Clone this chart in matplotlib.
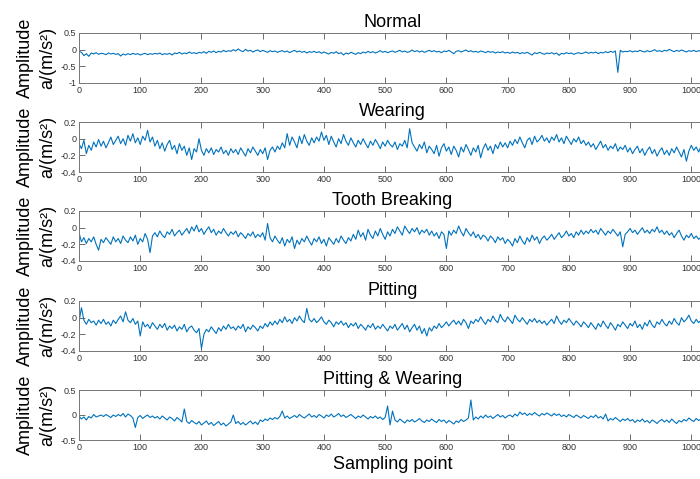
import numpy as np
import matplotlib
matplotlib.use("Agg")
import matplotlib.pyplot as plt

plt.rcParams['font.family'] = ['Liberation Sans', 'DejaVu Sans']

# sample index of every stored value (one value per 4 sampling points)
samples = np.arange(0, 1024, 4)

normal = [
    -0.05, -0.08, -0.18, -0.12, -0.2, -0.1, -0.13, -0.09, -0.14, -0.11, -0.12, -0.15, -0.1, -0.13, -0.11, -0.14,
    -0.12, -0.19, -0.13, -0.16, -0.12, -0.15, -0.11, -0.14, -0.12, -0.16, -0.13, -0.11, -0.15, -0.12, -0.14, -0.11,
    -0.13, -0.1, -0.15, -0.12, -0.14, -0.11, -0.16, -0.1, -0.12, -0.08, -0.13, -0.1, -0.12, -0.07, -0.11, -0.09,
    -0.12, -0.08, -0.1, -0.06, -0.11, -0.05, -0.08, -0.04, -0.09, -0.05, -0.07, -0.02, -0.06, -0.03, -0.05, 0.0,
    -0.04, 0.02, -0.03, -0.06, 0.01, -0.04, -0.02, -0.07, -0.03, -0.01, -0.06, -0.02, -0.05, -0.08, -0.03, -0.06,
    -0.04, -0.08, -0.05, -0.03, -0.07, -0.04, -0.09, -0.05, -0.02, -0.07, -0.04, -0.08, -0.05, -0.1, -0.06, -0.08,
    -0.05, -0.09, -0.06, -0.11, -0.07, -0.1, -0.13, -0.08, -0.11, -0.06, -0.12, -0.09, -0.16, -0.1, -0.13, -0.08,
    -0.11, -0.14, -0.09, -0.12, -0.07, -0.1, -0.05, -0.09, -0.06, -0.1, -0.07, -0.03, -0.08, -0.05, -0.09, -0.06,
    -0.04, -0.08, -0.05, -0.02, -0.07, -0.04, -0.08, -0.06, -0.01, -0.06, -0.03, -0.07, -0.04, -0.08, -0.05, -0.02,
    -0.06, -0.03, -0.07, -0.05, -0.09, -0.04, -0.06, -0.02, -0.07, -0.12, -0.05, -0.03, -0.07, -0.04, -0.01, -0.06,
    -0.03, -0.07, -0.05, -0.08, -0.04, -0.06, -0.09, -0.05, -0.08, -0.06, -0.1, -0.07, -0.09, -0.06, -0.1, -0.08,
    -0.11, -0.07, -0.1, -0.08, -0.12, -0.09, -0.11, -0.08, -0.12, -0.16, -0.09, -0.12, -0.08, -0.11, -0.14, -0.1,
    -0.12, -0.09, -0.13, -0.1, -0.17, -0.11, -0.13, -0.09, -0.12, -0.1, -0.14, -0.11, -0.09, -0.12, -0.1, -0.07,
    -0.11, -0.08, -0.1, -0.07, -0.12, -0.08, -0.1, -0.06, -0.09, -0.05, -0.08, -0.04, -0.68, -0.02, -0.07, -0.05,
    -0.06, -0.03, -0.07, -0.04, -0.06, -0.02, -0.05, -0.07, -0.03, -0.06, -0.04, 0.0, -0.05, -0.03, -0.06, -0.02,
    -0.04, 0.01, -0.03, -0.06, -0.02, -0.05, -0.01, -0.04, -0.07, -0.03, -0.05, -0.02, -0.06, -0.03, -0.05, -0.04,
]

wearing = [
    -0.06, -0.12, -0.02, -0.18, -0.08, -0.14, -0.04, -0.1, -0.01, -0.09, -0.03, -0.11, -0.05, 0.02, -0.07, -0.02,
    0.03, -0.06, 0.0, -0.08, 0.04, -0.03, 0.06, -0.05, 0.01, -0.07, 0.03, -0.02, 0.1, -0.04, 0.02, -0.09,
    -0.02, -0.12, -0.05, -0.15, -0.07, -0.02, -0.13, -0.08, -0.18, -0.06, -0.14, -0.09, -0.2, -0.11, -0.25, -0.12,
    -0.16, 0.0, -0.14, -0.2, -0.12, -0.17, -0.11, -0.19, -0.13, -0.16, -0.1, -0.18, -0.14, -0.2, -0.12, -0.17,
    -0.13, -0.19, -0.11, -0.16, -0.21, -0.12, -0.17, -0.1, -0.15, -0.2, -0.13, -0.18, -0.11, -0.25, -0.14, -0.1,
    -0.16, -0.09, -0.13, -0.05, -0.11, 0.06, -0.08, 0.02, -0.04, -0.11, 0.03, -0.06, 0.05, -0.03, -0.08, 0.01,
    -0.05, 0.02, -0.03, 0.08, -0.02, 0.04, -0.07, 0.03, -0.04, -0.1, 0.0, -0.06, 0.05, -0.03, -0.08, 0.01,
    -0.05, -0.1, -0.02, -0.07, 0.0, -0.06, -0.11, -0.03, -0.08, -0.01, -0.06, -0.12, -0.04, -0.09, -0.02, -0.07,
    -0.1, -0.04, -0.13, -0.06, -0.09, -0.02, -0.11, 0.12, -0.05, -0.1, -0.15, -0.07, -0.12, -0.04, -0.17, -0.09,
    -0.13, -0.18, -0.08, -0.21, -0.11, -0.06, -0.15, -0.1, -0.19, -0.09, -0.14, -0.22, -0.1, -0.16, -0.07, -0.13,
    -0.2, -0.11, -0.16, -0.08, -0.23, -0.12, -0.06, -0.14, -0.09, -0.18, -0.07, -0.12, -0.04, -0.1, -0.05, -0.11,
    -0.03, -0.08, -0.01, -0.06, 0.02, -0.05, -0.11, -0.02, 0.01, -0.07, 0.03, -0.04, -0.01, 0.04, -0.03, 0.01,
    -0.05, 0.02, -0.02, 0.05, -0.04, 0.01, -0.06, 0.03, -0.02, -0.07, 0.0, -0.04, 0.02, -0.06, -0.02, -0.08,
    -0.04, -0.1, -0.06, -0.13, -0.08, -0.03, -0.11, -0.07, -0.14, -0.09, -0.12, -0.06, -0.15, -0.1, -0.13, -0.08,
    -0.16, -0.11, -0.18, -0.13, -0.09, -0.17, -0.12, -0.2, -0.14, -0.1, -0.18, -0.13, -0.21, -0.15, -0.11, -0.19,
    -0.14, -0.2, -0.12, -0.17, -0.1, -0.16, -0.22, -0.13, -0.27, -0.15, -0.08, -0.14, -0.1, -0.16, -0.09, -0.12,
]

tooth_breaking = [
    -0.06, -0.17, -0.12, -0.19, -0.13, -0.17, -0.11, -0.2, -0.27, -0.14, -0.18, -0.12, -0.16, -0.2, -0.11, -0.17,
    -0.13, -0.19, -0.1, -0.15, -0.18, -0.11, -0.16, -0.09, -0.2, -0.13, -0.17, -0.07, -0.14, -0.3, -0.1, -0.06,
    -0.11, -0.04, -0.09, -0.12, -0.05, -0.08, -0.02, -0.1, -0.06, -0.03, -0.09, -0.05, -0.01, -0.07, 0.01, -0.04,
    0.03, -0.05, -0.01, -0.08, -0.03, 0.01, -0.06, -0.02, -0.09, -0.04, -0.07, -0.01, -0.06, -0.1, -0.05, -0.08,
    -0.04, -0.11, -0.06, -0.09, -0.13, -0.07, -0.1, -0.05, -0.12, -0.08, -0.11, -0.06, -0.15, 0.05, -0.12, -0.17,
    -0.1, -0.15, -0.19, -0.12, -0.22, -0.14, -0.18, -0.11, -0.25, -0.15, -0.2, -0.13, -0.17, -0.1, -0.16, -0.21,
    -0.13, -0.17, -0.11, -0.19, -0.14, -0.22, -0.12, -0.16, -0.2, -0.13, -0.18, -0.1, -0.15, -0.19, -0.12, -0.16,
    -0.08, -0.14, -0.03, -0.11, -0.06, -0.15, -0.02, -0.09, -0.13, -0.04, -0.1, -0.01, -0.08, -0.14, -0.05, -0.1,
    -0.02, -0.07, 0.01, -0.04, -0.09, 0.02, -0.03, -0.07, -0.01, -0.05, 0.0, -0.08, -0.03, -0.06, -0.02, -0.09,
    -0.04, -0.1, -0.06, -0.13, -0.05, -0.08, -0.25, -0.04, -0.09, -0.03, -0.07, 0.02, -0.05, -0.1, -0.01, -0.06,
    -0.1, -0.05, -0.12, -0.08, -0.14, -0.09, -0.11, -0.16, -0.1, -0.13, -0.18, -0.11, -0.15, -0.12, -0.19, -0.14,
    -0.17, -0.22, -0.13, -0.18, -0.1, -0.16, -0.2, -0.12, -0.17, -0.09, -0.15, -0.11, -0.19, -0.13, -0.1, -0.15,
    -0.12, -0.08, -0.14, -0.1, -0.06, -0.12, -0.09, -0.04, -0.1, -0.07, -0.12, -0.05, -0.09, -0.03, -0.08, -0.04,
    -0.07, -0.02, -0.06, -0.03, -0.08, -0.01, -0.05, -0.09, -0.04, -0.07, -0.02, -0.06, -0.1, -0.05, -0.23, -0.08,
    -0.05, -0.01, -0.06, -0.03, -0.08, -0.04, 0.0, -0.06, -0.03, -0.07, -0.02, -0.05, 0.01, -0.06, -0.03, -0.08,
    -0.04, -0.09, -0.06, -0.12, -0.07, -0.03, -0.1, -0.15, -0.09, -0.12, -0.07, -0.13, -0.1, -0.14, -0.11, -0.09,
]

pitting = [
    -0.05, 0.12, -0.03, -0.08, -0.02, -0.06, -0.04, -0.09, -0.03, -0.07, -0.02, -0.08, -0.05, -0.1, -0.03, -0.07,
    -0.02, 0.02, -0.05, 0.07, -0.03, -0.06, -0.01, -0.08, -0.04, -0.22, -0.05, -0.11, -0.08, -0.13, -0.06, -0.1,
    -0.14, -0.08, -0.12, -0.07, -0.15, -0.1, -0.13, -0.09, -0.16, -0.11, -0.14, -0.08, -0.17, -0.12, -0.1, -0.15,
    -0.18, -0.13, -0.37, -0.2, -0.14, -0.17, -0.11, -0.15, -0.19, -0.12, -0.16, -0.1, -0.14, -0.08, -0.13, -0.11,
    -0.15, -0.1, -0.13, -0.08, -0.17, -0.11, -0.14, -0.09, -0.12, -0.16, -0.1, -0.13, -0.07, -0.11, -0.05, -0.09,
    -0.04, -0.08, -0.02, -0.06, 0.01, -0.05, -0.02, -0.07, 0.0, -0.04, 0.02, -0.03, -0.06, 0.11, -0.02, -0.05,
    -0.01, -0.06, -0.03, 0.01, -0.05, -0.08, -0.03, -0.06, -0.11, -0.05, -0.08, -0.04, -0.09, -0.06, -0.12, -0.07,
    -0.1, -0.06, -0.13, -0.08, -0.11, -0.15, -0.09, -0.12, -0.07, -0.14, -0.1, -0.13, -0.08, -0.12, -0.16, -0.1,
    -0.13, -0.08, -0.15, -0.11, -0.07, -0.14, -0.09, -0.17, -0.12, -0.08, -0.15, -0.1, -0.19, -0.13, -0.22, -0.12,
    -0.16, -0.1, -0.13, -0.07, -0.12, -0.09, -0.05, -0.1, -0.06, -0.03, -0.08, -0.04, -0.09, -0.02, -0.06, -0.13,
    -0.04, -0.07, -0.02, -0.05, 0.01, -0.04, -0.08, -0.02, -0.05, 0.02, -0.03, -0.06, 0.04, -0.02, -0.05, 0.01,
    -0.03, -0.07, 0.03, -0.02, -0.05, 0.0, -0.04, -0.08, -0.02, -0.05, -0.01, -0.06, -0.03, -0.07, -0.04, -0.09,
    -0.05, -0.02, -0.07, 0.02, -0.04, -0.08, -0.03, -0.06, -0.01, -0.05, -0.09, -0.04, -0.07, -0.11, -0.05, -0.08,
    -0.12, -0.06, -0.1, -0.14, -0.07, -0.11, -0.04, -0.09, -0.13, -0.06, -0.1, -0.15, -0.08, -0.11, -0.05, -0.09,
    -0.13, -0.07, -0.1, -0.04, -0.12, -0.08, -0.14, -0.06, -0.1, -0.03, -0.09, -0.12, -0.05, -0.08, -0.02, -0.07,
    -0.1, -0.04, -0.08, -0.01, -0.06, -0.09, 0.0, -0.05, -0.02, 0.03, -0.04, -0.07, -0.02, -0.06, -0.03, -0.05,
]

pitting_wearing = [
    -0.02, -0.08, -0.04, -0.1, -0.03, -0.06, 0.01, -0.04, -0.02, 0.0, -0.03, 0.01, -0.02, -0.05, 0.0, -0.03,
    0.01, -0.02, 0.03, -0.04, 0.02, -0.01, -0.06, -0.25, -0.05, -0.01, -0.07, -0.03, 0.0, -0.05, -0.02, -0.06,
    -0.03, -0.08, -0.02, -0.06, -0.1, -0.04, -0.07, -0.12, -0.05, -0.09, -0.14, 0.12, -0.13, -0.17, -0.11, -0.15,
    -0.18, -0.13, -0.2, -0.16, -0.12, -0.19, -0.15, -0.21, -0.17, -0.13, -0.2, -0.16, -0.22, -0.18, -0.14, 0.0,
    -0.17, -0.13, -0.19, -0.15, -0.2, -0.16, -0.12, -0.18, -0.14, -0.19, -0.1, -0.13, -0.08, -0.11, -0.06, -0.09,
    -0.05, -0.08, -0.03, 0.08, -0.06, -0.02, -0.07, -0.04, -0.01, -0.05, 0.01, -0.03, -0.06, -0.02, 0.02, -0.04,
    -0.01, -0.05, 0.01, -0.02, -0.06, 0.0, -0.03, 0.02, -0.04, -0.01, 0.03, -0.03, 0.0, -0.05, -0.02, 0.01,
    -0.03, -0.07, -0.02, -0.05, 0.0, -0.04, -0.08, -0.03, -0.06, -0.02, -0.07, -0.04, -0.09, -0.05, 0.18, -0.2,
    0.08, -0.1, -0.14, -0.08, -0.12, -0.16, -0.1, -0.13, -0.09, -0.14, -0.11, -0.07, -0.12, -0.15, -0.1, -0.13,
    -0.08, -0.12, -0.15, -0.09, -0.13, -0.1, -0.16, -0.11, -0.14, -0.18, -0.12, -0.15, -0.09, -0.13, -0.1, -0.06,
    0.3, -0.1, -0.04, -0.08, -0.02, -0.06, 0.0, -0.05, -0.02, -0.07, -0.03, 0.01, -0.04, -0.01, -0.06, -0.02,
    0.0, -0.04, 0.02, -0.02, 0.06, 0.01, 0.04, -0.01, 0.03, 0.0, 0.05, 0.01, -0.02, 0.03, 0.0, 0.04,
    0.01, -0.02, 0.03, -0.01, 0.02, -0.03, 0.0, -0.04, 0.01, -0.02, -0.05, 0.0, -0.03, -0.06, -0.01, -0.04,
    -0.07, -0.02, -0.05, 0.0, -0.06, -0.03, -0.08, 0.02, -0.12, -0.07, -0.1, -0.05, -0.09, -0.13, -0.08, -0.11,
    -0.07, -0.12, -0.09, -0.15, -0.1, -0.13, -0.08, -0.14, -0.11, -0.16, -0.1, -0.13, -0.17, -0.12, -0.09, -0.14,
    -0.1, -0.15, -0.08, -0.13, -0.17, -0.11, -0.14, -0.09, -0.12, -0.06, -0.1, -0.13, -0.07, -0.11, -0.08, -0.1,
]

titles = ["Normal", "Wearing", "Tooth Breaking", "Pitting", "Pitting & Wearing"]
signals = [normal, wearing, tooth_breaking, pitting, pitting_wearing]
y_limits = [(-1, 0.5), (-0.4, 0.2), (-0.4, 0.2), (-0.4, 0.2), (-0.5, 0.5)]
y_ticks = [[-1, -0.5, 0, 0.5], [-0.4, -0.2, 0, 0.2], [-0.4, -0.2, 0, 0.2],
           [-0.4, -0.2, 0, 0.2], [-0.5, 0, 0.5]]
x_ticks = list(range(0, 1001, 100))

fig = plt.figure(figsize=(7, 4.79), dpi=100)
W, H = 700, 479
panel_tops = [33, 122, 211, 301, 390]   # pixel rows of the axes tops
panel_h = 50
left_px, right_px = 79, 706

axes = []
for i in range(5):
    top = panel_tops[i]
    ax = fig.add_axes([left_px / W, 1 - (top + panel_h) / H,
                       (right_px - left_px) / W, panel_h / H])
    ax.plot(samples, signals[i], color='#0072BD', lw=0.8)
    ax.set_xlim(0, 1024)
    ax.set_ylim(*y_limits[i])
    ax.set_xticks(x_ticks)
    ax.set_yticks(y_ticks[i])
    ax.set_yticklabels([f"{t:g}" for t in y_ticks[i]])
    ax.tick_params(direction='in', length=4, width=0.6, labelsize=6.5,
                   colors='#555555', labelcolor='#333333', top=True, right=True, pad=2)
    for sp in ax.spines.values():
        sp.set_color('#777777')
        sp.set_linewidth(0.7)
    ax.set_title(titles[i], fontsize=13, pad=4)
    ax.set_ylabel("Amplitude\na/(m/s²)", fontsize=13, linespacing=1.45)
    ax.yaxis.set_label_coords(-0.036, 0.5)
    axes.append(ax)

axes[-1].set_xlabel("Sampling point", fontsize=13, labelpad=3)

fig.savefig("out.png", dpi=100)
